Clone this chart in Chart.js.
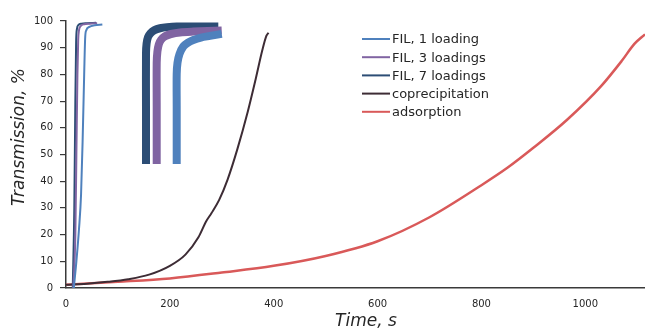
<!DOCTYPE html>
<html>
<head>
<meta charset="utf-8">
<script src="https://cdn.jsdelivr.net/npm/chart.js@4"></script>
<style>
  html, body { margin: 0; padding: 0; background: #fff; }
  #wrap { position: relative; width: 645px; height: 333px; }
  #mainChart { position: absolute; left: 0; top: 0; }
  #insetChart { position: absolute; left: 130px; top: 10px; }
</style>
</head>
<body>
<div id="wrap">
  <canvas id="mainChart" width="645" height="333"></canvas>
  <canvas id="insetChart" width="100" height="160"></canvas>
</div>
<script>
// series (time in s, transmission in %)
const fil1Time = [15, 20, 25, 29, 32, 35, 37, 39, 45, 55, 70];
const fil1Value = [0, 10, 22, 35, 55, 80, 94, 96.5, 97.8, 98.4, 98.7];

const fil3Time = [14, 18, 20, 22, 23.5, 25, 28, 35, 45, 60];
const fil3Value = [0, 20, 50, 80, 93, 96.5, 98, 98.8, 99, 99.2];

const fil7Time = [13, 16, 18, 19.5, 21, 24, 30, 40, 58];
const fil7Value = [0, 30, 70, 92, 97, 98.5, 99, 99.2, 99.3];

const coprTime = [0, 40, 80, 120, 160, 200, 230, 255, 270, 280, 295, 311, 330, 350, 365, 378, 386, 390];
const coprValue = [1.2, 1.6, 2.3, 3.3, 5, 8.3, 12.5, 19, 25, 28, 33, 40.5, 52, 66, 78, 89, 94.5, 95.6];

const adsTime = [0, 100, 200, 300, 400, 500, 600, 700, 800, 850, 900, 965, 1030, 1070, 1095, 1115];
const adsValue = [1.2, 2.3, 3.6, 5.8, 8.3, 12, 17.5, 26.5, 38.5, 45, 52.5, 63, 75.5, 85, 91.5, 95];

// inset (zoomed view of the FIL curves, arbitrary 0-100 units)
const inset1X = [46.7, 46.7, 46.7, 47.5, 49.5, 53.3, 58, 63.3, 71, 80, 91.7];
const inset1Y = [3.75, 40, 60, 67, 72.5, 77.2, 79.6, 81.3, 82.8, 83.8, 85.1];
const inset3X = [26.7, 26.7, 26.7, 27.4, 28.8, 31, 35, 41, 50, 63.3, 91.7];
const inset3Y = [3.75, 40, 67, 74, 78.5, 81.3, 83.6, 85, 86, 86.5, 87.2];
const inset7X = [16, 16, 16, 16.6, 18, 20.5, 24.5, 30, 37, 46.7, 88.3];
const inset7Y = [3.75, 40, 73, 79, 83, 85.5, 87.4, 88.6, 89.3, 89.7, 89.7];

const seriesLabels = ["FIL, 1 loading", "FIL, 3 loadings", "FIL, 7 loadings", "coprecipitation", "adsorption"];
const seriesColors = ["#4f81bd", "#8064a2", "#2c4d75", "#3d2c35", "#d95959"];

const xTicks = [0, 200, 400, 600, 800, 1000];

function pts(xs, ys) {
    return xs.map((x, i) => ({ x: x, y: ys[i] }));
}

const FONT = "'DejaVu Sans', Verdana, sans-serif";
const TEXT = "#262626";
const AXIS = "#3a3a3a";

// legend + axis titles drawn by hand at the spots they sit in the picture
const extrasPlugin = {
    id: "extras",
    afterDraw(chart) {
        const ctx = chart.ctx;
        ctx.save();

        // legend
        ctx.font = "13px " + FONT;
        ctx.textBaseline = "middle";
        chart.data.datasets.forEach((ds, i) => {
            const y = 39 + i * 18.2;
            ctx.strokeStyle = ds.borderColor;
            ctx.lineWidth = 2;
            ctx.beginPath();
            ctx.moveTo(362, y);
            ctx.lineTo(390, y);
            ctx.stroke();
            ctx.fillStyle = TEXT;
            ctx.fillText(ds.label, 392, y + 1);
        });

        // axis titles
        ctx.font = "italic 17px " + FONT;
        ctx.textAlign = "center";
        ctx.textBaseline = "middle";
        ctx.fillStyle = TEXT;
        ctx.fillText("Time, s", 366, 322);

        ctx.translate(20, 137);
        ctx.rotate(-Math.PI / 2);
        ctx.fillText("Transmission, %", 0, 0);
        ctx.restore();
    }
};

const mainData = [
    pts(fil1Time, fil1Value),
    pts(fil3Time, fil3Value),
    pts(fil7Time, fil7Value),
    pts(coprTime, coprValue),
    pts(adsTime, adsValue),
];

new Chart(document.getElementById("mainChart"), {
    type: "line",
    data: {
        datasets: mainData.map((d, i) => ({
            label: seriesLabels[i],
            data: d,
            borderColor: seriesColors[i],
            backgroundColor: seriesColors[i],
            borderWidth: i === 4 ? 2.5 : 2,
            pointRadius: 0,
            cubicInterpolationMode: "monotone",
            fill: false,
        })),
    },
    options: {
        responsive: false,
        animation: false,
        events: [],
        layout: { padding: { top: 21, right: 0, left: 0, bottom: 0 } },
        plugins: {
            legend: { display: false },
            tooltip: { enabled: false },
        },
        scales: {
            x: {
                type: "linear",
                min: 0,
                max: 1115,
                afterBuildTicks: (s) => { s.ticks = xTicks.map(v => ({ value: v })); },
                ticks: {
                    color: TEXT,
                    font: { family: FONT, size: 10 },
                    padding: 10,
                    maxRotation: 0,
                    callback: (v) => String(v),
                },
                grid: { display: false, drawTicks: false },
                border: { display: true, color: AXIS, width: 1.5 },
                afterFit: (s) => { s.height = 45; },
            },
            y: {
                min: 0,
                max: 100,
                ticks: {
                    stepSize: 10,
                    color: TEXT,
                    font: { family: FONT, size: 10 },
                    padding: 7,
                },
                grid: {
                    drawOnChartArea: false,
                    drawTicks: true,
                    tickLength: 6,
                    color: AXIS,
                    lineWidth: 1.2,
                },
                border: { display: true, color: AXIS, width: 1.5 },
                afterFit: (s) => { s.width = 66; },
            },
        },
    },
    plugins: [extrasPlugin],
});

// inset with the thick FIL curves
const insetData = [pts(inset1X, inset1Y), pts(inset3X, inset3Y), pts(inset7X, inset7Y)];

new Chart(document.getElementById("insetChart"), {
    type: "line",
    data: {
        datasets: insetData.map((d, i) => ({
            label: seriesLabels[i],
            data: d,
            borderColor: seriesColors[i],
            borderWidth: 8,
            pointRadius: 0,
            tension: 0.3,
            borderCapStyle: "butt",
            borderJoinStyle: "round",
            clip: false,
            fill: false,
        })),
    },
    options: {
        responsive: false,
        animation: false,
        events: [],
        layout: { padding: 0 },
        plugins: { legend: { display: false }, tooltip: { enabled: false } },
        scales: {
            x: { type: "linear", min: 0, max: 100, display: false },
            y: { min: 0, max: 100, display: false },
        },
    },
});
</script>
</body>
</html>
